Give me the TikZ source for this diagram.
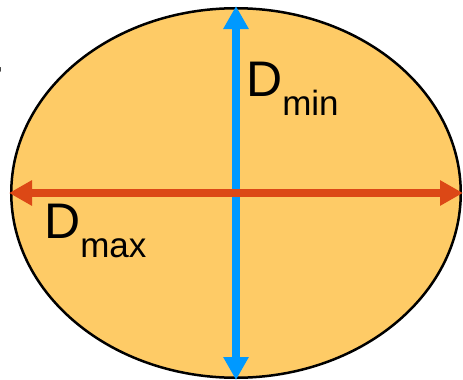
\documentclass[tikz,border=0pt]{standalone}
\usepackage{fontspec}
\setmainfont{Liberation Sans}
\usetikzlibrary{shapes.geometric,arrows.meta}
\definecolor{fillor}{RGB}{254,203,102}
\definecolor{arrblue}{RGB}{0,153,255}
\definecolor{arrred}{RGB}{220,72,22}
\tikzset{
  disc/.style={ellipse, draw=black, line width=2.5pt, fill=fillor, inner sep=0pt, minimum width=449.5pt, minimum height=369.5pt},
  axisarrow/.style={line width=8pt, {Triangle[width=24pt,length=23pt]}-{Triangle[width=24pt,length=23pt]}, shorten <=-1pt, shorten >=-1pt},
  lbl/.style={anchor=base west, inner sep=0pt, font=\fontsize{50}{50}\selectfont}
}
\newcommand{\subtxt}[1]{\raisebox{-19pt}{\fontsize{35}{35}\selectfont #1}}
\begin{document}
\begin{tikzpicture}[x=1pt,y=-1pt]
\useasboundingbox (0,0) rectangle (463,380);
\node[lbl, anchor=base east, font=\fontsize{56}{56}\selectfont] (r) at (2.5,97) {r};
\node[disc] (e) at (236,193) {};
\draw[axisarrow, draw=arrblue] (e.south) -- (e.north);
\draw[axisarrow, draw=arrred] (e.west) -- (e.east);
\node[lbl] (dmin) at (246,96) {D\subtxt{min}};
\node[lbl] (dmax) at (44,238) {D\subtxt{max}};
\end{tikzpicture}
\end{document}
